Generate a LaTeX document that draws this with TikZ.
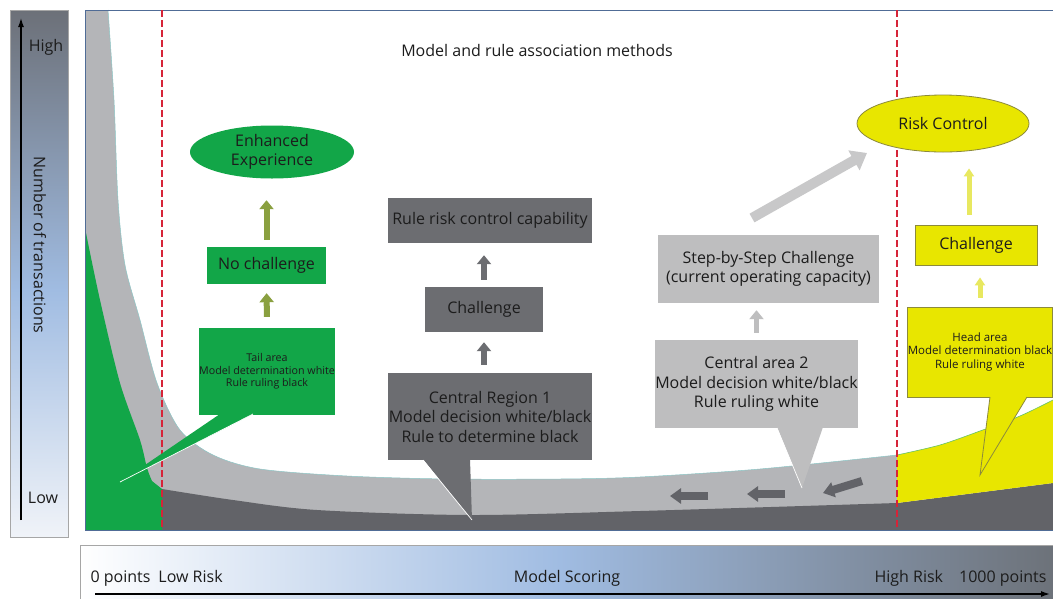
\documentclass[tikz,border=0pt]{standalone}
\usepackage{fontspec}
\setmainfont{Open Sans}
\usepackage{tikz}
\usetikzlibrary{shapes.geometric,arrows.meta,calc}

\definecolor{tailgreen}{RGB}{18,166,72}
\definecolor{bandgrey}{RGB}{180,181,184}
\definecolor{basegrey}{RGB}{98,99,104}
\definecolor{boxgrey}{RGB}{108,109,113}
\definecolor{lightbox}{RGB}{190,190,191}
\definecolor{headyellow}{RGB}{232,230,0}
\definecolor{olivegrey}{RGB}{140,138,60}
\definecolor{dashred}{RGB}{214,36,56}
\definecolor{frameblue}{RGB}{80,108,150}
\definecolor{darktext}{RGB}{28,28,28}
\definecolor{olivearrow}{RGB}{138,160,64}
\definecolor{palearrow}{RGB}{232,232,96}
\definecolor{axtop}{RGB}{108,112,120}
\definecolor{axmid}{RGB}{160,188,226}
\definecolor{axbot}{RGB}{240,243,248}
\definecolor{axdark}{RGB}{108,113,120}

\tikzset{
  boxtext/.style={font=\fontsize{16}{19.5}\selectfont, text=darktext, align=center, inner sep=0pt},
  smalltext/.style={font=\fontsize{10.7}{12.5}\selectfont, text=darktext, align=center, inner sep=0pt},
  axistext/.style={font=\fontsize{16}{18}\selectfont, text=darktext},
  greenbox/.style={boxtext, fill=tailgreen},
  darkbox/.style={boxtext, fill=boxgrey},
  palebox/.style={boxtext, fill=lightbox},
  yellowbox/.style={boxtext, fill=headyellow, draw=olivegrey, line width=0.8pt},
  fatup/.style={line width=6pt, -{Triangle[length=9pt,width=14pt]}},
  bandarrow/.style={basegrey, line width=8pt, -{Triangle[length=11pt,width=15pt]}},
  riskline/.style={dashred, line width=1.2pt, dash pattern=on 7pt off 3pt},
}

\begin{document}
\begin{tikzpicture}[x=1pt,y=1pt,yscale=-1]
\useasboundingbox (0,0) rectangle (1053,598);
% axes
\shade[top color=axtop, bottom color=axmid] (10,10) rectangle (68,290);
\shade[top color=axmid, bottom color=axbot] (10,289.5) rectangle (68,537);
\draw[gray!70, line width=0.8pt] (10,10) rectangle (68,537);
\shade[left color=white, right color=axmid] (80,545) rectangle (560,604);
\shade[left color=axmid, right color=axdark] (559.5,545) rectangle (1060,604);
\draw[gray!70, line width=0.8pt] (1060,545) -- (80,545) -- (80,604);
\coordinate (ylow) at (21,520);
\coordinate (yhigh) at (21,18);
\draw[line width=1.3pt, -{Latex[length=9pt,width=6pt]}] (ylow) -- (yhigh);
\coordinate (xlow) at (95,594);
\coordinate (xhigh) at (1050,594);
\draw[line width=1.3pt, -{Latex[length=9pt,width=6pt]}] (xlow) -- (xhigh);

% panel
\fill[white] (85,10) rectangle (1053,530);
\fill[bandgrey] (86,10) -- plot[smooth] coordinates {(108,10) (114,100) (118,200) (125,265) (140,320) (157,383) (180,430) (213,455) (260,469) (347,476) (447,479) (560,479) (640,477) (760,469) (897,455)} -- (897,530) -- (86,530) -- cycle;
\draw[teal!45, line width=0.5pt] plot[smooth] coordinates {(108,10) (114,100) (118,200) (125,265) (140,320) (157,383) (180,430) (213,455) (260,469) (347,476) (447,479) (560,479) (640,477) (760,469) (897,455)};
\fill[basegrey] plot[smooth] coordinates {(162,489) (233,500) (317,510) (470,515) (640,511) (897,503)} -- (1053,483) -- (1053,530) -- (162,530) -- cycle;
\fill[tailgreen] plot[smooth] coordinates {(86,233) (100,300) (120,383) (140,440) (147,468) (152,481)} -- (162,489) -- (162,530) -- (86,530) -- cycle;
\fill[headyellow] plot[smooth] coordinates {(897,455) (940,445) (980,431) (1020,416) (1053,400)} -- (1053,483) -- (897,503) -- cycle;
\draw[green!60!black!60, line width=0.6pt] plot[smooth] coordinates {(897,455) (940,445) (980,431) (1020,416) (1053,400)};
\draw[frameblue, line width=0.8pt] (85,10) rectangle (1060,530);
\draw[riskline] (162,10) -- (162,530);
\draw[riskline] (897,10) -- (897,530);

%Text
\node[axistext] (title) at (537,50) {Model and rule association methods};
\node[axistext] (high) at (46,47) {High};
\node[axistext] (low) at (43,498) {Low};
\node[axistext, rotate=-90] (ntrans) at (40,245) {Number of transactions};
\node[axistext, anchor=west] (zero) at (87,578) {0 points\enspace Low Risk};
\node[axistext] (scoring) at (567,578) {Model Scoring};
\node[axistext, anchor=east] (hirisk) at (1050,578) {High Risk\quad 1000 points};

% tail area
\node[greenbox, ellipse, minimum width=164pt, minimum height=53pt] (enh) at (272,152) {Enhanced\\Experience};
\node[greenbox, minimum width=119pt, minimum height=37pt] (nochal) at (266.5,265.5) {No challenge};
\node[greenbox, smalltext, minimum width=136pt, minimum height=87pt] (tail) at (267,371.5) {Tail area\\Model determination white\\Rule ruling black};
\fill[tailgreen] (220,414) -- (120,482) -- (253,414) -- cycle;
\draw[white, line width=0.7pt] (120,482) -- (253,414);
\draw[fatup, olivearrow, shorten <=11pt, shorten >=9pt] (tail.north) -- (nochal.south);
\draw[fatup, olivearrow, shorten <=7pt, shorten >=21.5pt] (nochal.north) -- (nochal.north |- enh.south);

% central region 1
\node[darkbox, minimum width=204pt, minimum height=45pt] (rulecap) at (490,220.5) {Rule risk control capability};
\node[darkbox, minimum width=118pt, minimum height=45pt] (chal) at (484,309.5) {Challenge};
\node[darkbox, minimum width=204pt, minimum height=87pt] (regone) at (490,416.5) {Central Region 1\\Model decision white/black\\Rule to determine black};
\fill[boxgrey] (423,459) -- (472,520) -- (470,459) -- cycle;
\draw[white, line width=0.7pt] (423,460) -- (472,520);
\draw[fatup, boxgrey, shorten <=8pt, shorten >=10pt] (regone.north -| chal.south) -- (chal.south);
\draw[fatup, boxgrey, shorten <=7pt, shorten >=12pt] (chal.north) -- (chal.north |- rulecap.south);

% central area 2
\node[palebox, minimum width=221pt, minimum height=68pt] (step) at (768.5,269) {Step-by-Step Challenge\\(current operating capacity)};
\node[palebox, minimum width=203pt, minimum height=88pt] (regtwo) at (756.5,384) {Central area 2\\Model decision white/black\\Rule ruling white};
\fill[lightbox] (777,427) -- (802,488) -- (823,427) -- cycle;
\draw[white, line width=0.7pt] (777,428) -- (802,488);
\draw[fatup, lightbox, line width=5pt, shorten <=7pt, shorten >=7pt] (regtwo.north) -- (regtwo.north |- step.south);
\draw[bandarrow] (708,496) -- (670,496);
\draw[bandarrow] (785,494) -- (747,494);
\draw[bandarrow] (862,481) -- (823,493);

% head area
\node[yellowbox, ellipse, minimum width=172pt, minimum height=57pt] (risk) at (943,123.5) {Risk Control};
\coordinate (stepout) at (752,218);
\coordinate (riskin) at (867,153);
\draw[lightbox!85!white, line width=10pt, -{Triangle[length=15pt,width=22pt]}] (stepout) -- (riskin);
\node[yellowbox, smalltext, font=\fontsize{11.5}{13.5}\selectfont, minimum width=144pt, minimum height=90pt] (head) at (980,352) {Head area\\Model determination black\\Rule ruling white};
\node[yellowbox, minimum width=122pt, minimum height=40pt] (ychal) at (976,245) {Challenge};
\filldraw[fill=headyellow, draw=olivegrey, line width=0.8pt] (990,397) -- (980,475) -- (1027,397);
\fill[headyellow] (991,395.6) rectangle (1025.5,398.4);
\draw[fatup, palearrow, line width=5pt, -{Triangle[length=8pt,width=10pt]}, shorten <=9pt, shorten >=12pt] (head.north) -- (head.north |- ychal.south);
\draw[fatup, palearrow, line width=5pt, -{Triangle[length=8pt,width=10pt]}, shorten <=10pt, shorten >=16pt] ($(ychal.north)+(-7,0)$) -- ($(ychal.north |- risk.south)+(-7,0)$);
\end{tikzpicture}
\end{document}
